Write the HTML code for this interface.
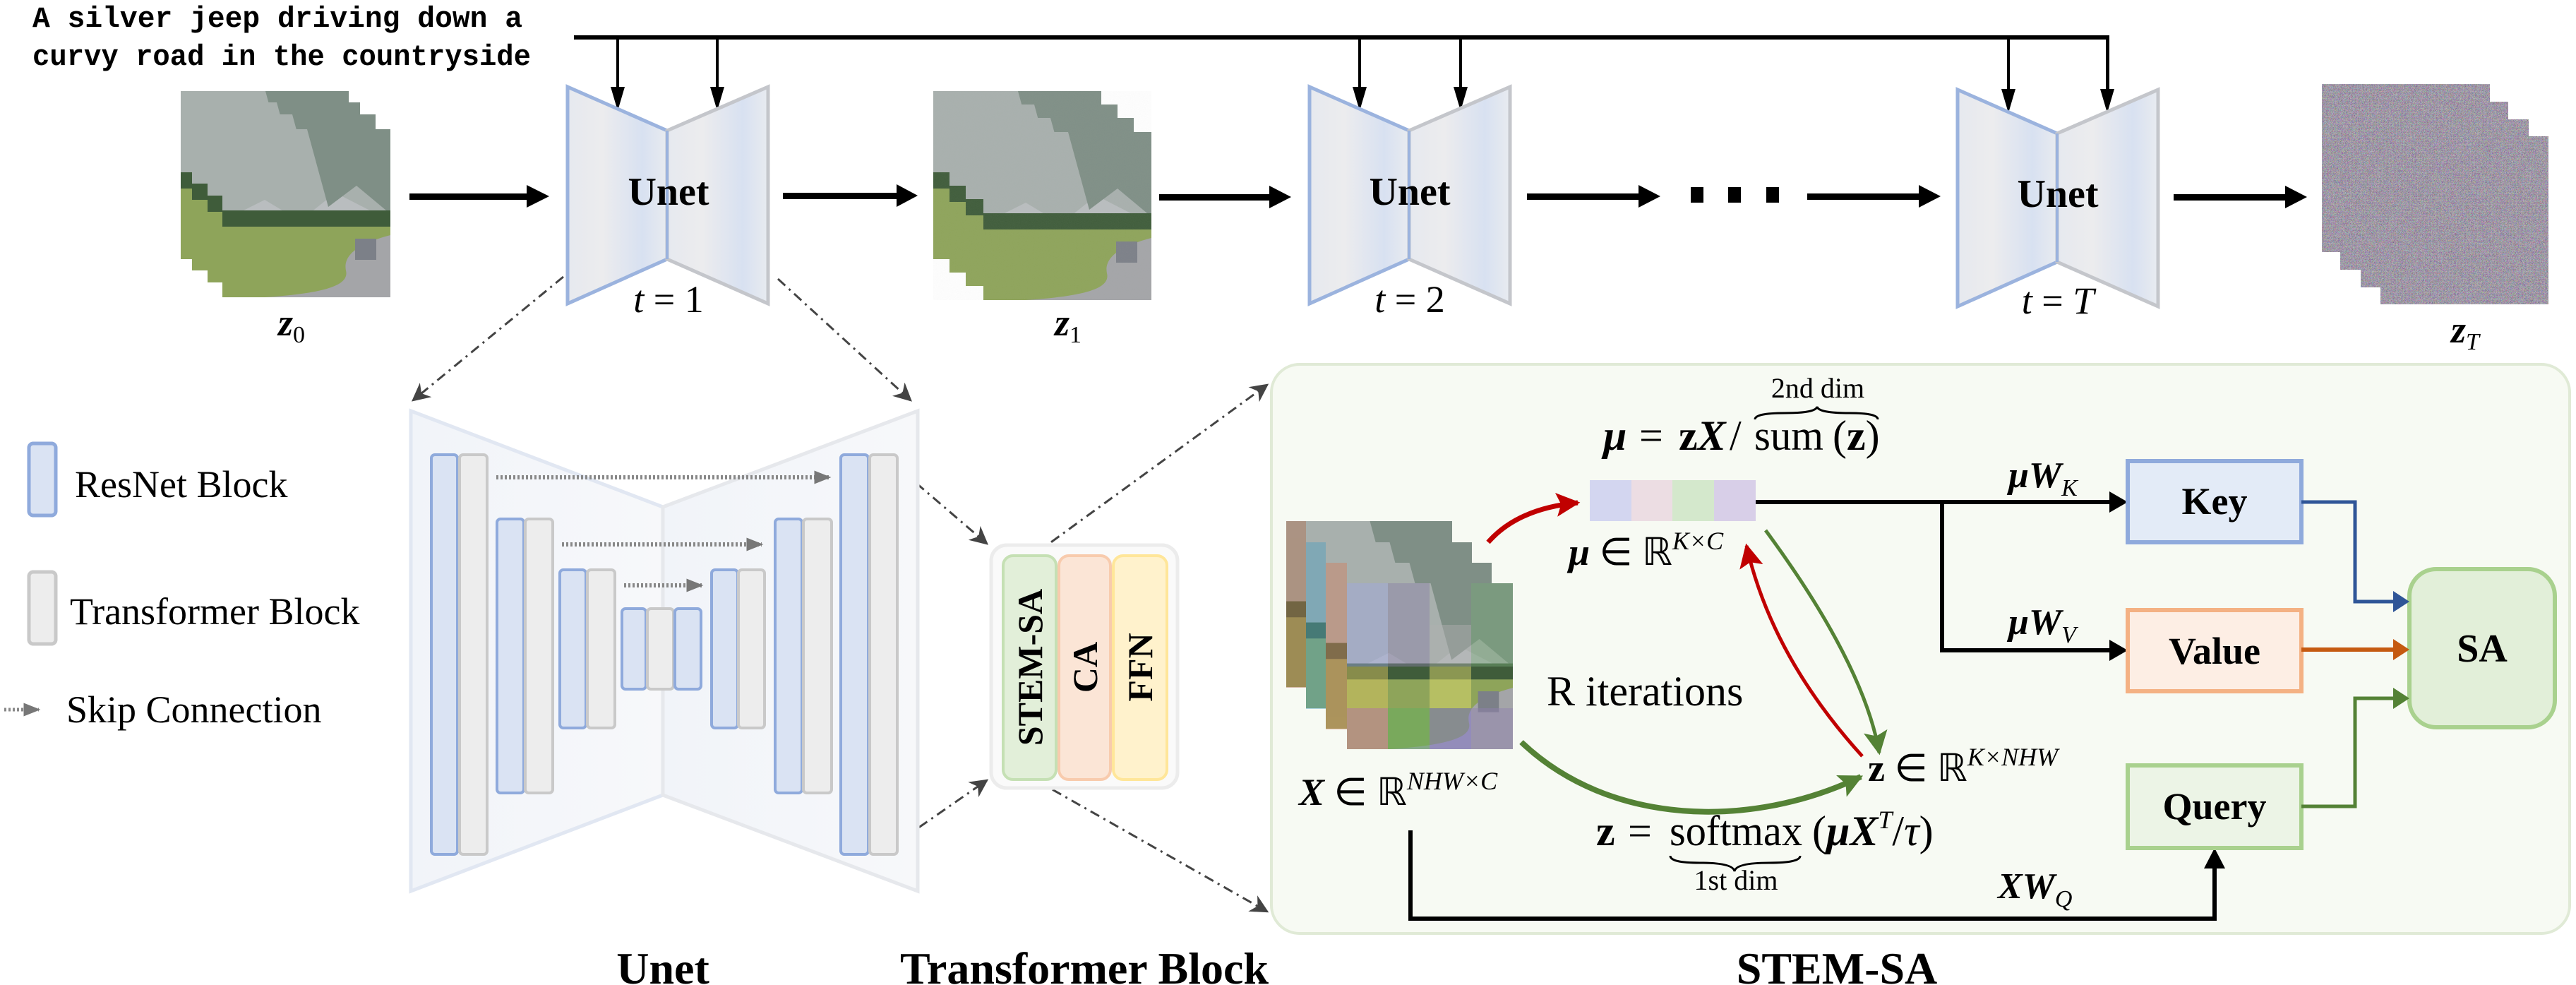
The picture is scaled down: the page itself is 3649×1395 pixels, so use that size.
<!DOCTYPE html>
<html><head><meta charset="utf-8"><style>
html,body{margin:0;padding:0;background:#fff;}
svg{display:block;}
.tb{font-family:"Liberation Serif",serif;font-weight:bold;}
.tr{font-family:"Liberation Serif",serif;}
.mono{font-family:"Liberation Mono",monospace;font-size:42px;font-weight:bold;}
</style></head><body>
<svg width="3649" height="1395" viewBox="0 0 3649 1395" xmlns="http://www.w3.org/2000/svg">
<defs>
<linearGradient id="ug" x1="0" x2="1" y1="0" y2="0">
<stop offset="0" stop-color="#e6e9ef"/><stop offset="0.35" stop-color="#ececee"/><stop offset="0.75" stop-color="#d8e1f1"/><stop offset="1" stop-color="#e8ebf0"/>
</linearGradient>
<linearGradient id="bg1" x1="0" x2="1"><stop offset="0" stop-color="#f1f4f9"/><stop offset="1" stop-color="#f7f8fa"/></linearGradient>
<marker id="dh" viewBox="0 0 10 10" refX="9" refY="5" markerWidth="26" markerHeight="26" orient="auto" markerUnits="userSpaceOnUse"><path d="M0,0 L10,5 L0,10 L3,5 z" fill="#444"/></marker>
<marker id="gh" viewBox="0 0 10 10" refX="9" refY="5" markerWidth="24" markerHeight="24" orient="auto" markerUnits="userSpaceOnUse"><path d="M0,1 L10,5 L0,9 z" fill="#777"/></marker>
<marker id="redh" viewBox="0 0 10 10" refX="9" refY="5" markerWidth="34" markerHeight="34" orient="auto" markerUnits="userSpaceOnUse"><path d="M0,0 L10,5 L0,10 L2,5 z" fill="#c00000"/></marker>
<marker id="grh" viewBox="0 0 10 10" refX="9" refY="5" markerWidth="34" markerHeight="34" orient="auto" markerUnits="userSpaceOnUse"><path d="M0,0 L10,5 L0,10 L2,5 z" fill="#548235"/></marker>
<filter id="noise" x="0" y="0" width="100%" height="100%">
<feTurbulence type="turbulence" baseFrequency="1.2" numOctaves="1" seed="3"/>
<feColorMatrix type="matrix" values="2.2 0 0 0 0.15  0 2.2 0 0 0.1  0 0 2.2 0 0.2  0 0 0 0 1"/>
</filter>
<filter id="lnoise" x="0" y="0" width="100%" height="100%">
<feTurbulence type="fractalNoise" baseFrequency="0.9" numOctaves="1" seed="5"/>
<feColorMatrix type="matrix" values="0 0 0 0 0.5  0 0 0 0 0.5  0 0 0 0 0.5  0 0 0 0.35 0"/>
</filter>
<symbol id="scene" viewBox="0 0 238 238">
<rect width="238" height="238" fill="#b9bdbf"/>
<polygon points="0,0 238,0 238,130 160,90 110,130 60,100 0,130" fill="#a8b0ad"/>
<polygon points="120,0 238,0 238,120 190,80 150,110" fill="#7f8f86"/>
<rect y="115" width="238" height="25" fill="#3f5c3a"/>
<rect y="138" width="238" height="100" fill="#8ea45a"/>
<path d="M238,150 C200,160 170,175 175,200 C180,220 150,232 60,238 L238,238 z" fill="#a4a5a8"/>
<rect x="188" y="155" width="30" height="30" fill="#7c8088"/>
</symbol>
</defs>

<text class="mono" x="46" y="38" textLength="694" lengthAdjust="spacingAndGlyphs">A silver jeep driving down a</text>
<text class="mono" x="46" y="92" textLength="706" lengthAdjust="spacingAndGlyphs">curvy road in the countryside</text>

<line x1="813" y1="53" x2="2988" y2="53" stroke="#000" stroke-width="6"/>
<g fill="#000">
<rect x="873" y="53" width="4" height="80"/><polygon points="865,123 885,123 875,157"/>
<rect x="1014" y="53" width="4" height="80"/><polygon points="1006,123 1026,123 1016,157"/>
<rect x="1924" y="53" width="4" height="80"/><polygon points="1916,123 1936,123 1926,157"/>
<rect x="2067" y="53" width="4" height="80"/><polygon points="2059,123 2079,123 2069,157"/>
<rect x="2843" y="53" width="4" height="80"/><polygon points="2835,126 2855,126 2845,160"/>
<rect x="2983" y="53" width="5" height="80"/><polygon points="2975,126 2995,126 2985,160"/>
</g>

<g>
<use href="#scene" x="256" y="129" width="238" height="238"/>
<use href="#scene" x="272" y="145" width="238" height="238"/>
<use href="#scene" x="294" y="162" width="238" height="238"/>
<use href="#scene" x="315" y="183" width="238" height="238"/>
</g>
<g>
<use href="#scene" x="1322" y="129" width="238" height="238"/>
<use href="#scene" x="1345" y="148" width="238" height="238"/>
<use href="#scene" x="1368" y="167" width="238" height="238"/>
<use href="#scene" x="1393" y="187" width="238" height="238"/>
<rect x="1322" y="129" width="309" height="296" fill="#9a9a9a" opacity="0.25" filter="url(#lnoise)"/>
</g>
<g>
<rect x="3289" y="119" width="238" height="238" fill="#7d7a80"/>
<rect x="3289" y="119" width="238" height="238" filter="url(#noise)" opacity="0.6"/>
<rect x="3315" y="144" width="238" height="238" fill="#7d7a80"/>
<rect x="3315" y="144" width="238" height="238" filter="url(#noise)" opacity="0.6"/>
<rect x="3344" y="169" width="238" height="238" fill="#7d7a80"/>
<rect x="3344" y="169" width="238" height="238" filter="url(#noise)" opacity="0.6"/>
<rect x="3372" y="193" width="238" height="238" fill="#7d7a80"/>
<rect x="3372" y="193" width="238" height="238" filter="url(#noise)" opacity="0.6"/>
</g>

<g id="unet">
<polygon points="804,123 945,185 945,367 804,430" fill="url(#ug)" stroke="#9bb3de" stroke-width="5"/>
<polygon points="945,185 1088,123 1088,430 945,367" fill="url(#ug)" stroke="#c4c6cb" stroke-width="5"/>
<line x1="945" y1="185" x2="945" y2="367" stroke="#9bb3de" stroke-width="4"/>
</g>
<use href="#unet" x="1051" y="0"/>
<use href="#unet" x="1969" y="4"/>
<text class="tb" x="947" y="290" font-size="56" text-anchor="middle">Unet</text>
<text class="tb" x="1997" y="290" font-size="56" text-anchor="middle">Unet</text>
<text class="tb" x="2915" y="293" font-size="56" text-anchor="middle">Unet</text>
<g class="tr" font-size="54" text-anchor="middle">
<text x="947" y="442"><tspan font-style="italic">t</tspan> = 1</text>
<text x="1997" y="442"><tspan font-style="italic">t</tspan> = 2</text>
<text x="2915" y="444"><tspan font-style="italic">t</tspan> = <tspan font-style="italic">T</tspan></text>
<text x="413" y="475" font-weight="bold" font-style="italic">z<tspan font-size="34" font-weight="normal" font-style="normal" dy="10">0</tspan></text>
<text x="1513" y="475" font-weight="bold" font-style="italic">z<tspan font-size="34" font-weight="normal" font-style="normal" dy="10">1</tspan></text>
<text x="3492" y="485" font-weight="bold" font-style="italic">z<tspan font-size="34" font-weight="normal" dy="10">T</tspan></text>
</g>

<g fill="#000">
<rect x="580" y="274" width="170" height="9"/><polygon points="746,262 778,278 746,294"/>
<rect x="1109" y="273" width="165" height="9"/><polygon points="1270,261 1300,277 1270,293"/>
<rect x="1642" y="275" width="160" height="9"/><polygon points="1798,263 1829,279 1798,295"/>
<rect x="2163" y="274" width="162" height="9"/><polygon points="2321,262 2352,278 2321,294"/>
<rect x="2395" y="265" width="18" height="22"/><rect x="2448" y="265" width="18" height="22"/><rect x="2502" y="265" width="18" height="22"/>
<rect x="2560" y="274" width="160" height="9"/><polygon points="2718,262 2749,278 2718,294"/>
<rect x="3079" y="275" width="160" height="9"/><polygon points="3237,263 3268,279 3237,295"/>
</g>

<g stroke="#444" stroke-width="3" stroke-dasharray="14 7 3 7" fill="none" marker-end="url(#dh)">
<line x1="798" y1="392" x2="585" y2="567"/>
<line x1="1102" y1="395" x2="1290" y2="567"/>
<line x1="1251" y1="644" x2="1398" y2="770"/>
<line x1="1251" y1="1207" x2="1398" y2="1105"/>
<line x1="1464" y1="786" x2="1795" y2="545"/>
<line x1="1464" y1="1103" x2="1795" y2="1291"/>
</g>

<rect x="41" y="628" width="38" height="102" rx="6" fill="#dae3f3" stroke="#8faadc" stroke-width="5"/>
<rect x="41" y="810" width="38" height="102" rx="6" fill="#ededed" stroke="#c9c9c9" stroke-width="5"/>
<text class="tr" x="106" y="704" font-size="54">ResNet Block</text>
<text class="tr" x="99" y="884" font-size="54">Transformer Block</text>
<line x1="6" y1="1005" x2="55" y2="1005" stroke="#888" stroke-width="5" stroke-dasharray="3 3" marker-end="url(#gh)"/>
<text class="tr" x="94" y="1023" font-size="54">Skip Connection</text>

<polygon points="582,582 939,718 939,1126 582,1262" fill="url(#bg1)" stroke="#e1e7f2" stroke-width="5"/>
<polygon points="939,718 1300,582 1300,1262 939,1126" fill="url(#bg1)" stroke="#e6e8ec" stroke-width="5"/>
<g stroke-width="4">
<rect x="611" y="644" width="37" height="566" rx="5" fill="#dae3f3" stroke="#8faadc"/>
<rect x="651" y="644" width="39" height="566" rx="5" fill="#ededed" stroke="#c9c9c9"/>
<rect x="704" y="735" width="38" height="388" rx="5" fill="#dae3f3" stroke="#8faadc"/>
<rect x="744" y="735" width="39" height="388" rx="5" fill="#ededed" stroke="#c9c9c9"/>
<rect x="793" y="807" width="37" height="224" rx="5" fill="#dae3f3" stroke="#8faadc"/>
<rect x="832" y="807" width="39" height="224" rx="5" fill="#ededed" stroke="#c9c9c9"/>
<rect x="881" y="862" width="34" height="114" rx="5" fill="#dae3f3" stroke="#8faadc"/>
<rect x="917" y="862" width="37" height="114" rx="5" fill="#ededed" stroke="#c9c9c9"/>
<rect x="956" y="862" width="37" height="114" rx="5" fill="#dae3f3" stroke="#8faadc"/>
<rect x="1008" y="807" width="37" height="224" rx="5" fill="#dae3f3" stroke="#8faadc"/>
<rect x="1046" y="807" width="37" height="224" rx="5" fill="#ededed" stroke="#c9c9c9"/>
<rect x="1098" y="735" width="38" height="388" rx="5" fill="#dae3f3" stroke="#8faadc"/>
<rect x="1138" y="735" width="40" height="388" rx="5" fill="#ededed" stroke="#c9c9c9"/>
<rect x="1191" y="644" width="39" height="566" rx="5" fill="#dae3f3" stroke="#8faadc"/>
<rect x="1232" y="644" width="39" height="566" rx="5" fill="#ededed" stroke="#c9c9c9"/>
</g>
<g stroke="#888" stroke-width="6" stroke-dasharray="3 3" marker-end="url(#gh)">
<line x1="703" y1="676" x2="1175" y2="676"/>
<line x1="796" y1="771" x2="1079" y2="771"/>
<line x1="884" y1="829" x2="994" y2="829"/>
</g>

<rect x="1404" y="772" width="264" height="344" rx="22" fill="#fafafa" stroke="#ececec" stroke-width="5"/>
<rect x="1421" y="787" width="75" height="317" rx="14" fill="#e2efd9" stroke="#c5e0b4" stroke-width="4"/>
<rect x="1500" y="787" width="73" height="317" rx="14" fill="#fbe5d6" stroke="#f8cbad" stroke-width="4"/>
<rect x="1577" y="787" width="76" height="317" rx="14" fill="#fff2cc" stroke="#ffe699" stroke-width="4"/>
<text class="tb" font-size="50" text-anchor="middle" transform="translate(1476,945) rotate(-90)">STEM-SA</text>
<text class="tb" font-size="50" text-anchor="middle" transform="translate(1554,945) rotate(-90)">CA</text>
<text class="tb" font-size="50" text-anchor="middle" transform="translate(1632,945) rotate(-90)">FFN</text>

<text class="tb" x="939" y="1393" font-size="64" text-anchor="middle">Unet</text>
<text class="tb" x="1536" y="1393" font-size="64" text-anchor="middle">Transformer Block</text>
<text class="tb" x="2602" y="1393" font-size="64" text-anchor="middle">STEM-SA</text>

<rect x="1801" y="516" width="1839" height="806" rx="40" fill="#f7faf3" stroke="#e0ead6" stroke-width="4"/>

<g>
<use href="#scene" x="1822" y="738" width="235" height="235"/>
<use href="#scene" x="1850" y="768" width="235" height="235"/>
<use href="#scene" x="1878" y="797" width="235" height="235"/>
<use href="#scene" x="1908" y="826" width="235" height="235"/>
<g opacity="0.45">
<rect x="1908" y="826" width="58" height="118" fill="#a0a8e0"/><rect x="1966" y="826" width="59" height="118" fill="#8a80a8"/>
<rect x="2025" y="885" width="59" height="60" fill="#b0b0b0"/><rect x="2084" y="826" width="59" height="118" fill="#78a878"/>
<rect x="1908" y="944" width="58" height="60" fill="#e0c860"/><rect x="2025" y="944" width="59" height="60" fill="#e8e070"/>
<rect x="1908" y="1003" width="58" height="58" fill="#e080b0"/><rect x="1966" y="1003" width="59" height="58" fill="#60b060"/>
<rect x="2025" y="1003" width="59" height="58" fill="#8070d0"/><rect x="2084" y="1003" width="59" height="58" fill="#9080b0"/>
<rect x="1822" y="738" width="28" height="236" fill="#b07050"/><rect x="1850" y="768" width="28" height="236" fill="#50a0c0"/><rect x="1878" y="797" width="30" height="236" fill="#d08060"/>
</g>
</g>

<rect x="2252" y="680" width="59" height="58" fill="#d3d6f0"/>
<rect x="2311" y="680" width="58" height="58" fill="#ecdde3"/>
<rect x="2369" y="680" width="59" height="58" fill="#d4e8cc"/>
<rect x="2428" y="680" width="59" height="58" fill="#d8cfe8"/>

<text class="tr" x="2575" y="563" font-size="40" text-anchor="middle">2nd dim</text>
<path d="M2486,594 q0,-9 42,-9 q44,0 46,-9 q2,9 46,9 q40,0 40,9" fill="none" stroke="#000" stroke-width="3"/>
<g class="tr" font-size="60">
<text x="2271" y="637" font-weight="bold" font-style="italic">μ</text>
<text x="2322" y="637">=</text>
<text x="2378" y="637" font-weight="bold">z<tspan font-style="italic">X</tspan></text>
<text x="2450" y="637">/</text>
<text x="2485" y="637" textLength="98" lengthAdjust="spacingAndGlyphs">sum</text>
<text x="2596" y="637">(<tspan font-weight="bold">z</tspan>)</text>
</g>
<text class="tr" x="2222" y="800" font-size="54"><tspan font-weight="bold" font-style="italic">μ</tspan> ∈ ℝ<tspan font-size="36" font-style="italic" dy="-22">K×C</tspan></text>
<text class="tr" x="1840" y="1140" font-size="54"><tspan font-weight="bold" font-style="italic">X</tspan> ∈ ℝ<tspan font-size="36" font-style="italic" dy="-22">NHW×C</tspan></text>
<text class="tr" x="2646" y="1106" font-size="54"><tspan font-weight="bold">z</tspan> ∈ ℝ<tspan font-size="36" font-style="italic" dy="-22">K×NHW</tspan></text>
<text class="tr" x="2191" y="999" font-size="60">R iterations</text>

<g class="tr" font-size="60">
<text x="2261" y="1197" font-weight="bold">z</text>
<text x="2306" y="1197">=</text>
<text x="2365" y="1197" textLength="188" lengthAdjust="spacingAndGlyphs">softmax</text>
<text x="2567" y="1197">(<tspan font-weight="bold" font-style="italic">μX</tspan><tspan font-size="36" font-style="italic" dy="-24">T</tspan><tspan dy="24">/</tspan><tspan font-style="italic">τ</tspan>)</text>
</g>
<path d="M2366,1212 q0,10 42,10 q47,0 49,12 q2,-12 49,-12 q44,0 44,-10" fill="none" stroke="#000" stroke-width="3"/>
<text class="tr" x="2459" y="1260" font-size="40" text-anchor="middle">1st dim</text>

<text class="tr" x="2845" y="690" font-size="52" font-weight="bold" font-style="italic">μW<tspan font-size="34" font-weight="normal" dy="12">K</tspan></text>
<text class="tr" x="2845" y="898" font-size="52" font-weight="bold" font-style="italic">μW<tspan font-size="34" font-weight="normal" dy="12">V</tspan></text>
<text class="tr" x="2830" y="1272" font-size="52" font-weight="bold" font-style="italic">XW<tspan font-size="34" font-weight="normal" dy="12">Q</tspan></text>

<path d="M2108,768 Q2150,720 2235,712" fill="none" stroke="#c00000" stroke-width="7" marker-end="url(#redh)"/>
<path d="M2501,751 Q2640,940 2662,1066" fill="none" stroke="#548235" stroke-width="5" marker-end="url(#grh)"/>
<path d="M2638,1071 Q2510,930 2474,773" fill="none" stroke="#c00000" stroke-width="5" marker-end="url(#redh)"/>
<path d="M2155,1051 C2280,1170 2480,1175 2636,1100" fill="none" stroke="#548235" stroke-width="8" marker-end="url(#grh)"/>

<g stroke="#000" stroke-width="6" fill="none">
<polyline points="2487,711 2990,711"/>
<polyline points="2751,711 2751,921 2990,921"/>
<polyline points="1998,1176 1998,1301 3137,1301 3137,1230"/>
</g>
<polygon points="2988,696 3014,711 2988,726" fill="#000"/>
<polygon points="2988,906 3014,921 2988,936" fill="#000"/>
<polygon points="3122,1230 3137,1201 3152,1230" fill="#000"/>

<rect x="3014" y="653" width="246" height="115" fill="#e3ebf7" stroke="#8faadc" stroke-width="6"/>
<rect x="3014" y="864" width="246" height="115" fill="#fdeee4" stroke="#f4b183" stroke-width="6"/>
<rect x="3014" y="1084" width="246" height="117" fill="#ecf4e6" stroke="#a9d18e" stroke-width="6"/>
<rect x="3413" y="806" width="206" height="224" rx="38" fill="#e2efd9" stroke="#a9d18e" stroke-width="6"/>
<text class="tb" x="3137" y="728" font-size="54" text-anchor="middle">Key</text>
<text class="tb" x="3137" y="940" font-size="54" text-anchor="middle">Value</text>
<text class="tb" x="3137" y="1160" font-size="54" text-anchor="middle">Query</text>
<text class="tb" x="3516" y="937" font-size="56" text-anchor="middle">SA</text>

<polyline points="3260,711 3336,711 3336,852 3392,852" fill="none" stroke="#2f5597" stroke-width="5"/>
<polygon points="3390,837 3413,852 3390,867" fill="#2f5597"/>
<polyline points="3260,920 3392,920" fill="none" stroke="#c55a11" stroke-width="6"/>
<polygon points="3390,905 3413,920 3390,935" fill="#c55a11"/>
<polyline points="3260,1142 3336,1142 3336,989 3392,989" fill="none" stroke="#548235" stroke-width="5"/>
<polygon points="3390,974 3413,989 3390,1004" fill="#548235"/>
</svg>
</body></html>
